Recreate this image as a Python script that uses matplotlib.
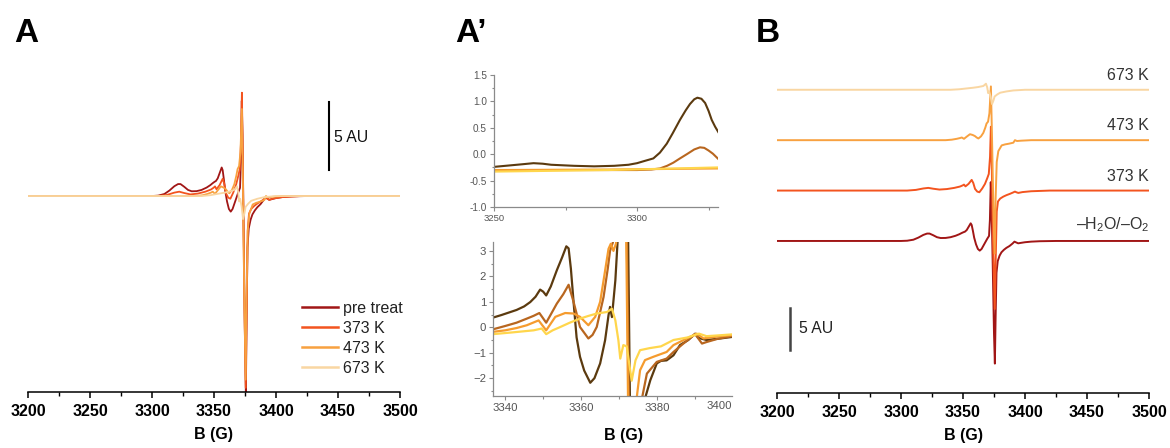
import matplotlib
matplotlib.use("Agg")
import matplotlib.pyplot as plt
from matplotlib.ticker import MultipleLocator, FixedLocator, FormatStrFormatter
from matplotlib.transforms import offset_copy

plt.rcParams['font.family'] = ['Liberation Sans', 'DejaVu Sans']
plt.rcParams['mathtext.fontset'] = 'custom'
plt.rcParams['mathtext.rm'] = 'Liberation Sans'

W, H = 1170, 448

# ---------------- data: panels A and B (AU) ----------------
pre_F = [3200, 3300, 3305, 3310, 3314, 3318, 3321, 3323, 3326, 3329, 3332, 3336, 3340, 3344,
         3347, 3349, 3350.5, 3351.5, 3353, 3354.8, 3356.2, 3357, 3358, 3359, 3360.5, 3362,
         3363.5, 3365, 3366.5, 3368, 3369.5, 3371, 3371.7, 3372.4, 3373, 3374, 3375, 3375.7,
         3376.3, 3377, 3378, 3379.5, 3381, 3383, 3385, 3387.5, 3390, 3391.5, 3392.5, 3394.5,
         3397, 3400, 3405, 3412, 3425, 3500]
pre_V = [0, 0, 0.03, 0.15, 0.4, 0.72, 0.88, 0.88, 0.68, 0.45, 0.35, 0.36, 0.45, 0.62,
         0.8, 0.95, 1.05, 1.1, 1.3, 1.75, 2.1, 1.9, 1.2, 0.4, -0.4, -0.95,
         -1.15, -0.95, -0.55, -0.15, 0.25, 0.6, 2.5, 7.0, 4.5, -3.0, -11.0, -14.6,
         -9.0, -3.8, -2.4, -1.75, -1.35, -1.05, -0.82, -0.6, -0.3, -0.08, -0.15, -0.28,
         -0.22, -0.15, -0.08, -0.03, 0, 0]

k373_F = [3200, 3305, 3312, 3318, 3322, 3326, 3331, 3337, 3343, 3347.6, 3349.8, 3350.8, 3352,
          3354.5, 3357, 3358.3, 3359.7, 3361.5, 3363.2, 3365.5, 3367.7, 3369.5, 3370.8, 3371.8,
          3372.5, 3373.2, 3374.2, 3375.6, 3376.4, 3377.2, 3378.2, 3380, 3382.5, 3385, 3388,
          3390.5, 3391.9, 3393, 3394.6, 3398, 3405, 3420, 3500]
k373_V = [0, 0, 0.08, 0.25, 0.32, 0.22, 0.12, 0.18, 0.32, 0.48, 0.62, 0.71, 0.5,
          0.8, 1.27, 0.9, 0.2, -0.12, -0.2, 0.25, 0.79, 1.45, 1.98, 4.0,
          7.6, 3.0, -6.0, -14.1, -8.0, -2.5, -1.3, -0.95, -0.72, -0.55, -0.38,
          -0.22, -0.12, -0.2, -0.28, -0.18, -0.08, 0, 0]

k473_F = [3200, 3336, 3341, 3344.9, 3347.5, 3349, 3350.8, 3353, 3355.6, 3357.8, 3359.7, 3361,
          3362.4, 3364.5, 3366.4, 3368, 3369, 3370.2, 3371.3, 3372.5, 3373.3, 3374.5, 3375.5,
          3376.3, 3377.2, 3378.5, 3381.2, 3384, 3387, 3390.6, 3391.9, 3393.5, 3397, 3405, 3500]
k473_V = [0, 0, 0.06, 0.16, 0.25, 0.32, 0.16, 0.42, 0.71, 0.62, 0.48, 0.32,
          0.2, 0.45, 0.87, 1.5, 1.98, 2.2, 3.2, 6.4, 1.0, -8.0, -13.5,
          -7.0, -2.6, -1.3, -0.62, -0.5, -0.42, -0.3, 0.0, -0.1, -0.06, 0, 0]

k673_F = [3200, 3340, 3347, 3353, 3358, 3362, 3366.4, 3368.5, 3369.5, 3370.3, 3371.1, 3372.3,
          3373.4, 3374.5, 3375.5, 3377.7, 3380, 3385, 3390.6, 3400, 3500]
k673_V = [0, 0, 0.06, 0.16, 0.24, 0.32, 0.45, 0.72, 0.3, -0.4, -0.2, -0.8,
          -1.7, -1.3, -0.8, -0.55, -0.35, -0.2, -0.08, 0, 0]

labels_A = ['pre treat', '373 K', '473 K', '673 K']
colors_A = ['#a11616', '#f3541f', '#f8a140', '#f9d6a2']
labels_B = ['\u2013H$_2$O/\u2013O$_2$', '373 K', '473 K', '673 K']
offsets_B = [0, 6, 12, 18]
ticks_AB = [3200, 3250, 3300, 3350, 3400, 3450, 3500]

# ---------------- data: panel A' top ----------------
t_pre_F = [3250, 3256, 3260, 3263.8, 3267, 3270, 3278, 3285, 3292, 3297, 3300, 3302.5, 3305.7,
           3308, 3310.4, 3312.5, 3315, 3317, 3318.5, 3320, 3321.1, 3322.5, 3323.8, 3325,
           3326.1, 3327.3, 3328.4]
t_pre_V = [-0.24, -0.21, -0.19, -0.17, -0.18, -0.2, -0.22, -0.23, -0.22, -0.2, -0.17, -0.13,
           -0.08, 0.03, 0.2, 0.4, 0.65, 0.83, 0.95, 1.04, 1.07, 1.05, 0.97, 0.82,
           0.65, 0.52, 0.42]
t_373_F = [3250, 3300, 3305, 3308, 3310.5, 3312.7, 3315, 3317.4, 3320, 3322, 3323.5, 3325,
           3326.5, 3328.4]
t_373_V = [-0.3, -0.3, -0.29, -0.27, -0.22, -0.16, -0.08, 0.0, 0.09, 0.13, 0.12, 0.07,
           0.01, -0.09]
t_473_F = [3250, 3290, 3328.4]
t_473_V = [-0.3, -0.29, -0.27]
t_673_F = [3250, 3290, 3328.4]
t_673_V = [-0.33, -0.3, -0.25]

# ---------------- data: panel A' bottom ----------------
b_pre_F = [3336.8, 3339, 3341, 3343, 3345, 3346.6, 3348, 3349.2, 3350, 3350.8, 3352, 3353.6,
           3355, 3356.1, 3356.7, 3357.3, 3358, 3358.8, 3359.7, 3360.8, 3362.4, 3363.5, 3365,
           3366.3, 3367.2, 3367.6, 3368.1, 3369, 3369.6, 3371.5, 3374.5, 3376.8, 3378.2,
           3379.9, 3381, 3382.5, 3384.3, 3386, 3388.2, 3390, 3390.9, 3393, 3396.6, 3399.7]
b_pre_V = [0.38, 0.48, 0.58, 0.68, 0.82, 0.99, 1.2, 1.48, 1.4, 1.25, 1.6, 2.24,
           2.75, 3.18, 3.1, 2.3, 1.0, -0.4, -1.16, -1.7, -2.18, -2.0, -1.42,
           -0.51, 0.47, 0.8, 0.4, 1.84, 3.4, 15, -25, -2.8, -2.08,
           -1.42, -1.32, -1.3, -1.1, -0.7, -0.5, -0.25, -0.42, -0.5, -0.44, -0.38]
b_373_F = [3336.8, 3340, 3343, 3345.7, 3347.5, 3349, 3350.8, 3352, 3353.6, 3355.3, 3356.7,
           3358, 3359.7, 3361.9, 3363, 3364.1, 3365.9, 3367, 3367.6, 3368.5, 3371, 3374.5,
           3376, 3377.3, 3379.9, 3382.5, 3384.3, 3386.9, 3390, 3391.8, 3393, 3396, 3399.7]
b_373_V = [-0.08, 0.05, 0.18, 0.34, 0.45, 0.56, 0.18, 0.5, 0.93, 1.3, 1.67,
           1.0, 0.01, -0.44, -0.3, 0.01, 1.19, 2.3, 3.0, 3.4, 15, -25,
           -2.8, -1.82, -1.36, -1.23, -0.97, -0.64, -0.27, -0.64, -0.58, -0.45, -0.35]
b_473_F = [3336.8, 3340, 3343, 3345.7, 3348.8, 3350.8, 3353.2, 3355.8, 3358, 3359.7, 3361.9,
           3363.7, 3365, 3365.9, 3367.2, 3367.8, 3368.5, 3369.2, 3371, 3374, 3374.6, 3375.5,
           3376.8, 3379, 3382.5, 3384.3, 3387.8, 3390.4, 3392.2, 3396, 3399.7]
b_473_V = [-0.18, -0.12, -0.03, 0.08, 0.27, -0.12, 0.41, 0.56, 0.54, 0.41, 0.08,
           0.41, 1.0, 1.84, 3.08, 3.28, 3.0, 3.3, 15, -25, -2.8, -1.69,
           -1.29, -1.16, -0.97, -0.7, -0.44, -0.25, -0.44, -0.36, -0.31]
b_673_F = [3336.8, 3342, 3347.5, 3349.6, 3350.8, 3352.5, 3354.5, 3357, 3359.7, 3362,
           3364.1, 3366.8, 3368.1, 3369, 3369.8, 3370.3, 3371.1, 3372, 3373.3, 3374.3,
           3375.5, 3378, 3381, 3384.3, 3388, 3391, 3393, 3396, 3399.7]
b_673_V = [-0.27, -0.2, -0.12, -0.05, -0.27, -0.12, 0.01, 0.18, 0.34, 0.45,
           0.54, 0.6, 0.73, 0.27, -0.51, -1.23, -0.7, -0.75, -2.1, -1.3,
           -0.9, -0.82, -0.75, -0.5, -0.4, -0.25, -0.35, -0.32, -0.28]
colors_Ap = ['#5b3a0f', '#b8661f', '#f59b2e', '#ffd64c']
inset_top_yticks = [-1.0, -0.5, 0.0, 0.5, 1.0, 1.5]
inset_top_xticks = [3250, 3300]
inset_bot_yticks = [-2, -1, 0, 1, 2, 3]
inset_bot_xticks = [3340, 3360, 3380]
inset_bot_last_label = '3400'


def rect(l, t, r, b):
    return [l / W, 1 - b / H, (r - l) / W, (b - t) / H]


fig = plt.figure(figsize=(W / 100, H / 100), dpi=100)

# ================= Panel A =================
axA = fig.add_axes(rect(28, 55, 400, 392))
seriesA = [(pre_F, pre_V), (k373_F, k373_V), (k473_F, k473_V), (k673_F, k673_V)]
for (f, v), c, lab in zip(seriesA, colors_A, labels_A):
    axA.plot(f, v, color=c, lw=1.3, label=lab, solid_joinstyle='round')
axA.set_xlim(3200, 3500)
axA.set_ylim(-14.41, 10.37)


def style_main(ax):
    for s in ['left', 'top', 'right']:
        ax.spines[s].set_visible(False)
    ax.spines['bottom'].set_linewidth(1.1)
    ax.set_yticks([])
    ax.xaxis.set_major_locator(FixedLocator(ticks_AB))
    ax.xaxis.set_minor_locator(MultipleLocator(25))
    ax.tick_params(axis='x', which='major', direction='out', length=4.5, width=1.1,
                   pad=4.0, labelsize=11.5)
    ax.tick_params(axis='x', which='minor', direction='out', length=3, width=1.0)
    for t in ax.get_xticklabels():
        t.set_fontweight('bold')
    ax.set_xlabel('B (G)', fontsize=11.5, fontweight='bold', labelpad=6)
    ax.patch.set_alpha(0)


style_main(axA)
axA.plot([3442.7, 3442.7], [1.9, 6.9], color='black', lw=1.5)
axA.text(3447, 4.3, '5 AU', fontsize=11.3, va='center', ha='left', color='#111111')
leg = axA.legend(loc='lower left', bbox_to_anchor=(302 / W, 1 - 376 / H),
                 bbox_transform=fig.transFigure, frameon=False, fontsize=11.5,
                 handlelength=2.25, handletextpad=0.3, labelspacing=0.32,
                 borderpad=0, borderaxespad=0)
for t in leg.get_texts():
    t.set_color('#222222')
for l in leg.get_lines():
    l.set_linewidth(1.8)

# ================= Panel B =================
axB = fig.add_axes(rect(777, 55, 1149, 393))
for (f, v), c, lab, off in zip(seriesA, colors_A, labels_B, offsets_B):
    axB.plot(f, [x + off for x in v], color=c, lw=1.4, solid_joinstyle='round')
    dy = 1.95 if off == 0 else 1.7
    axB.text(3500, off + dy, lab, ha='right', va='center', fontsize=11.5, color='#333333')
axB.set_xlim(3200, 3500)
axB.set_ylim(-18.1, 22.14)
style_main(axB)
axB.plot([3210.5, 3210.5], [-13, -8], color='#444444', lw=1.8)
axB.text(3218, -10.4, '5 AU', fontsize=11.3, va='center', ha='left', color='#222222')

# ================= Panel A' insets =================
GRAY = '#8a8a8a'
TXT = '#555555'


def style_inset(ax, fs):
    for s in ['top', 'right']:
        ax.spines[s].set_visible(False)
    for s in ['left', 'bottom']:
        ax.spines[s].set_color(GRAY)
        ax.spines[s].set_linewidth(0.9)
    ax.tick_params(which='both', direction='out', color=GRAY, labelcolor=TXT,
                   labelsize=fs, width=0.8)
    ax.tick_params(which='major', length=3, pad=2)
    ax.tick_params(which='minor', length=1.8)
    ax.patch.set_alpha(0)


axT = fig.add_axes(rect(494, 75, 718, 207))
seriesT = [(t_pre_F, t_pre_V), (t_373_F, t_373_V), (t_473_F, t_473_V), (t_673_F, t_673_V)]
for (f, v), c in zip(seriesT, colors_Ap):
    axT.plot(f, v, color=c, lw=1.5)
axT.set_xlim(3250, 3328.3)
axT.set_ylim(-1.0, 1.5)
style_inset(axT, 7.2)
axT.xaxis.set_major_locator(FixedLocator(inset_top_xticks))
axT.xaxis.set_minor_locator(MultipleLocator(25))
axT.yaxis.set_major_locator(FixedLocator(inset_top_yticks))
axT.yaxis.set_minor_locator(MultipleLocator(0.25))
axT.yaxis.set_major_formatter(FormatStrFormatter('%.1f'))
axT.tick_params(axis='x', labelsize=6.8)

axBt = fig.add_axes(rect(493, 242, 732, 396))
seriesBt = [(b_pre_F, b_pre_V), (b_373_F, b_373_V), (b_473_F, b_473_V), (b_673_F, b_673_V)]
for (f, v), c in zip(seriesBt, colors_Ap):
    axBt.plot(f, v, color=c, lw=1.6, solid_joinstyle='round')
axBt.set_xlim(3336.8, 3399.7)
axBt.set_ylim(-2.7, 3.35)
style_inset(axBt, 8.2)
axBt.xaxis.set_major_locator(FixedLocator(inset_bot_xticks))
axBt.xaxis.set_minor_locator(MultipleLocator(10))
axBt.yaxis.set_major_locator(FixedLocator(inset_bot_yticks))
axBt.yaxis.set_minor_locator(MultipleLocator(0.5))
axBt.text(3399.7, -2.7, inset_bot_last_label, ha='right', va='top', fontsize=8.2, color=TXT,
          transform=offset_copy(axBt.transData, fig=fig, x=0, y=-5, units='dots'))
fig.text(624 / W, 1 - 435 / H, 'B (G)', ha='center', va='center', fontsize=11.5,
         fontweight='bold')

# ================= panel letters =================
for x, s in [(14, 'A'), (455, 'A\u2019'), (756, 'B')]:
    fig.text(x / W, 1 - 42 / H, s, fontsize=24, fontweight='bold', va='baseline', ha='left')

fig.savefig('out.png', dpi=100)
